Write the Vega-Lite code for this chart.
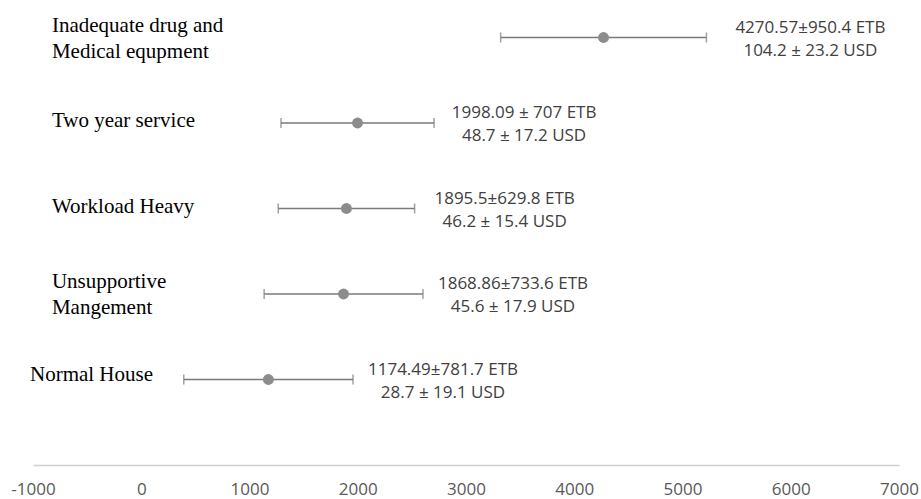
{
  "$schema": "https://vega.github.io/schema/vega-lite/v6.json",
  "autosize": "none",
  "width": 866,
  "height": 465,
  "padding": {"left": 33, "top": 0, "right": 22, "bottom": 34},
  "background": "white",
  "config": {"view": {"stroke": null}},
  "data": {
    "values": [
      {"factor": "Inadequate drug and\nMedical equpment", "rank": 5, "mean": 4270.57, "lo": 3320.17, "hi": 5220.97, "label": "4270.57±950.4 ETB\n104.2 ± 23.2 USD"},
      {"factor": "Two year service", "rank": 4, "mean": 1998.09, "lo": 1291.09, "hi": 2705.09, "label": "1998.09 ± 707 ETB\n48.7 ±  17.2 USD"},
      {"factor": "Workload Heavy", "rank": 3, "mean": 1895.5, "lo": 1265.7, "hi": 2525.3, "label": "1895.5±629.8 ETB\n46.2 ± 15.4 USD"},
      {"factor": "Unsupportive\nMangement", "rank": 2, "mean": 1868.86, "lo": 1135.26, "hi": 2602.46, "label": "1868.86±733.6 ETB\n45.6 ±  17.9 USD"},
      {"factor": "Normal House", "rank": 1, "mean": 1174.49, "lo": 392.79, "hi": 1956.19, "label": "1174.49±781.7 ETB\n28.7 ± 19.1 USD"}
    ]
  },
  "layer": [
    {
      "mark": {"type": "rule", "color": "#7a7a7a", "strokeWidth": 1.5},
      "encoding": {
        "x": {
          "field": "lo", "type": "quantitative",
          "scale": {"domain": [-1000, 7000], "nice": false, "zero": false},
          "axis": {
            "values": [-1000, 0, 1000, 2000, 3000, 4000, 5000, 6000, 7000],
            "labelExpr": "'' + datum.value",
            "title": null, "grid": false, "ticks": false,
            "domainColor": "#d0d0d0", "domainWidth": 1.5,
            "labelFont": "Open Sans", "labelFontSize": 17, "labelColor": "#595959",
            "labelPadding": 16, "labelFlush": false, "labelOverlap": false, "labelBound": false
          }
        },
        "x2": {"field": "hi"},
        "y": {"field": "rank", "type": "quantitative", "scale": {"domain": [0, 5.4386], "nice": false, "zero": false}, "axis": null}
      }
    },
    {
      "mark": {"type": "tick", "orient": "vertical", "color": "#7a7a7a", "thickness": 1.5, "size": 10},
      "encoding": {
        "x": {"field": "lo", "type": "quantitative"},
        "y": {"field": "rank", "type": "quantitative"}
      }
    },
    {
      "mark": {"type": "tick", "orient": "vertical", "color": "#7a7a7a", "thickness": 1.5, "size": 10},
      "encoding": {
        "x": {"field": "hi", "type": "quantitative"},
        "y": {"field": "rank", "type": "quantitative"}
      }
    },
    {
      "mark": {"type": "circle", "size": 120, "color": "#8c8c8c", "opacity": 1},
      "encoding": {
        "x": {"field": "mean", "type": "quantitative"},
        "y": {"field": "rank", "type": "quantitative"}
      }
    },
    {
      "transform": [{"filter": "datum.rank < 5"}],
      "mark": {"type": "text", "align": "center", "baseline": "middle", "dx": 90, "dy": -10, "lineBreak": "\n", "lineHeight": 23, "font": "Open Sans", "fontSize": 17, "color": "#404040"},
      "encoding": {
        "x": {"field": "hi", "type": "quantitative"},
        "y": {"field": "rank", "type": "quantitative"},
        "text": {"field": "label"}
      }
    },
    {
      "transform": [{"filter": "datum.rank == 5"}],
      "mark": {"type": "text", "align": "center", "baseline": "middle", "dx": 104, "dy": -10, "lineBreak": "\n", "lineHeight": 23, "font": "Open Sans", "fontSize": 17, "color": "#404040"},
      "encoding": {
        "x": {"field": "hi", "type": "quantitative"},
        "y": {"field": "rank", "type": "quantitative"},
        "text": {"field": "label"}
      }
    },
    {
      "transform": [{"filter": "datum.rank == 5 || datum.rank == 2"}],
      "mark": {"type": "text", "align": "left", "baseline": "middle", "dy": -12, "lineBreak": "\n", "lineHeight": 26, "font": "Liberation Serif", "fontSize": 21, "color": "#000000"},
      "encoding": {
        "x": {"datum": -825},
        "y": {"field": "rank", "type": "quantitative"},
        "text": {"field": "factor"}
      }
    },
    {
      "transform": [{"filter": "datum.rank == 4 || datum.rank == 3"}],
      "mark": {"type": "text", "align": "left", "baseline": "middle", "dy": -2, "font": "Liberation Serif", "fontSize": 21, "color": "#000000"},
      "encoding": {
        "x": {"datum": -825},
        "y": {"field": "rank", "type": "quantitative"},
        "text": {"field": "factor"}
      }
    },
    {
      "transform": [{"filter": "datum.rank == 1"}],
      "mark": {"type": "text", "align": "left", "baseline": "middle", "dy": -5, "font": "Liberation Serif", "fontSize": 21, "color": "#000000"},
      "encoding": {
        "x": {"datum": -1028},
        "y": {"field": "rank", "type": "quantitative"},
        "text": {"field": "factor"}
      }
    }
  ]
}
